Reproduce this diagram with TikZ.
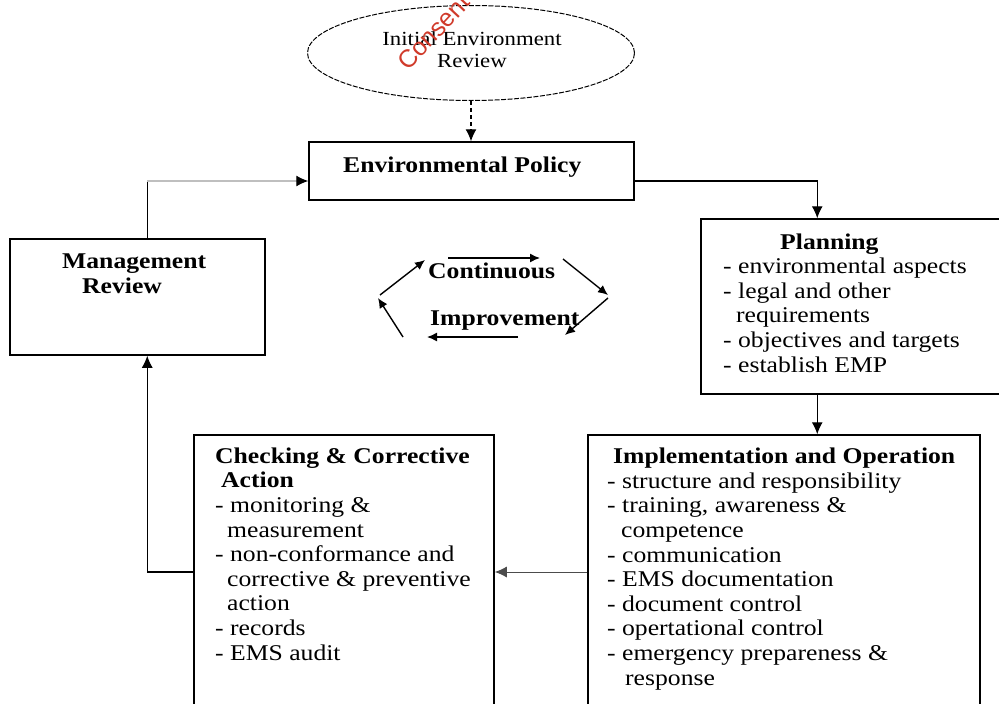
\documentclass[tikz,border=0pt]{standalone}
\usepackage{fontspec}
\setmainfont{Liberation Serif}[FakeStretch=1.14]
\newfontfamily\wmfont{Liberation Sans}
\usetikzlibrary{shapes.geometric, arrows.meta}
\definecolor{wmred}{RGB}{208,58,42}
\newcommand\emsfont{\fontsize{22.5pt}{24.6pt}\selectfont}

\begin{document}
\begin{tikzpicture}[x=1pt, y=-1pt]
    \tikzset{blk/.style={draw, line width=1.5pt, inner sep=0pt},
        txt/.style={anchor=base west, align=left, inner sep=0pt,
            font=\emsfont},
        arr/.style={line width=1.2pt, -{Latex[length=12pt, width=11pt]}},
        cyc/.style={line width=1.4pt, -{Latex[length=10pt, width=9pt]}}
    }
    \clip (0,0) rectangle (999,704);
    % boxes
    \node[ellipse, draw, line width=1pt, dash pattern=on 5pt off 1.5pt,
        minimum width=327pt, minimum height=95pt] (ier) at (471,53) {};
    \node[blk, minimum width=325pt, minimum height=58pt]
        (policy) at (471.5,171) {};
    \node[blk, minimum width=255pt, minimum height=116pt]
        (mgmt) at (137.5,297) {};
    \node[blk, minimum width=339pt, minimum height=175pt]
        (plan) at (870.5,306.5) {};
    \node[blk, minimum width=392pt, minimum height=274pt]
        (impl) at (784,572) {};
    \node[blk, minimum width=300pt, minimum height=274pt]
        (check) at (344,572) {};
    % texts (anchored on the baseline of their last line)
    \node[align=center, inner sep=0pt, font=\fontsize{20pt}{22pt}\selectfont]
        (ier-t) at (472,50) {Initial Environment\\Review};
    \node[txt] (policy-t) at (343,172) {\textbf{Environmental Policy}};
    \node[txt] (mgmt-t) at (62,293)
        {\textbf{Management}\\\hspace*{20pt}\textbf{Review}};
    \node[txt] (cont-t) at (428,278) {\textbf{Continuous}};
    \node[txt] (impr-t) at (430,325) {\textbf{Improvement}};
    \node[txt] (plan-t) at (723,372) {\hspace*{57pt}\textbf{Planning}\\
        - environmental aspects\\
        - legal and other\\
        \hspace*{13pt}requirements\\
        - objectives and targets\\
        - establish EMP};
    \node[txt] (impl-t) at (607,685)
        {\hspace*{6pt}\textbf{Implementation and Operation}\\
        - structure and responsibility\\
        - training, awareness \&\\
        \hspace*{14pt}competence\\
        - communication\\
        - EMS documentation\\
        - document control\\
        - opertational control\\
        - emergency prepareness \&\\
        \hspace*{18pt}response};
    \node[txt] (check-t) at (215,660) {\textbf{Checking \& Corrective}\\
        \hspace*{6pt}\textbf{Action}\\
        - monitoring \&\\
        \hspace*{12pt}measurement\\
        - non-conformance and\\
        \hspace*{12pt}corrective \& preventive\\
        \hspace*{12pt}action\\
        - records\\
        - EMS audit};
    \node[rotate=47, anchor=base west, inner sep=0pt, text=wmred,
        font=\wmfont\fontsize{25pt}{25pt}\selectfont] (wm) at (408,72) {Consent};
    % connectors
    \draw[arr, dash pattern=on 4pt off 3pt] (ier.south) -- (ier.south |- policy.north);
    \draw[arr] ([yshift=-10pt]policy.east) -| ([xshift=117pt]plan.north west);
    \draw[arr] ([xshift=117pt]plan.south west) -- ([xshift=117pt]plan.south west |- impl.north);
    \draw[arr, line width=1pt, draw=black!70] (impl.west) -- (check.east);
    \draw[arr] (check.west) -| ([xshift=138pt]mgmt.south west);
    \coordinate (mgmt-up) at ([xshift=138pt]mgmt.north west);
    \coordinate (policy-in) at ([yshift=-10pt]policy.west);
    \draw[line width=1.2pt] (mgmt-up) -- (mgmt-up |- policy-in);
    \draw[arr, draw=black!25, -{Latex[black, length=12pt, width=11pt]}]
        (mgmt-up |- policy-in) -- (policy-in);
    % improvement cycle
    \foreach \xa/\ya/\xb/\yb in {448/258/540/258, 563/259/608/295,
        608/298/565/335, 518/337/427/337, 403/337/378/298, 380/295/425/260} {
        \draw[cyc] (\xa,\ya) -- (\xb,\yb);
    }
\end{tikzpicture}
\end{document}
